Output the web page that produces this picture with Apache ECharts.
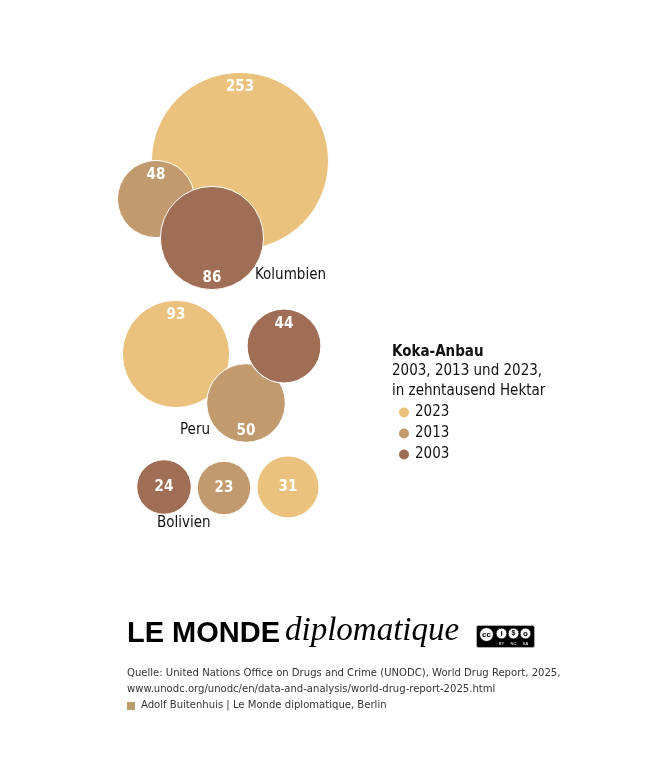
<!DOCTYPE html>
<html>
<head>
<meta charset="utf-8">
<script src="https://cdn.jsdelivr.net/npm/echarts@6/dist/echarts.min.js"></script>
<style>
  html, body { margin: 0; padding: 0; background: #fff; }
  #chart { width: 660px; height: 759px; }
</style>
</head>
<body>
<div id="chart"></div>
<script>
// Koka-Anbau, in zehntausend Hektar

const countries = ['Kolumbien', 'Peru', 'Bolivien'];
const years = ['2023', '2013', '2003'];
const area2023 = [253, 93, 31];
const area2013 = [48, 50, 23];
const area2003 = [86, 44, 24];

// bubble centres in chart units (layout only)
const centres2023 = [[240, 161], [176, 354], [288, 487]];
const centres2013 = [[156, 199], [246, 403], [224, 488]];
const centres2003 = [[212, 238], [284, 346], [164, 487]];
// where the number sits inside each bubble
const spots2023 = ['top', 'top', 'center'];
const spots2013 = ['top', 'bottom', 'center'];
const spots2003 = ['bottom', 'top', 'center'];

const COLORS = ['#ebc27d', '#c19b6e', '#a06d55'];
const FONT = '"DejaVu Sans Condensed", "Liberation Sans Narrow", "Noto Sans", sans-serif';
const K = 11.13; // diameter per sqrt(value), area true to scale

function bubbleSeries(name, values, centres, spots, color) {
  return {
    name,
    type: 'scatter',
    symbol: 'circle',
    symbolSize: d => K * Math.sqrt(d[2]),
    itemStyle: { color, borderColor: '#fff', borderWidth: 1, opacity: 1 },
    emphasis: { disabled: true },
    data: values.map((v, i) => {
      const r = K * Math.sqrt(v) / 2;
      const off = spots[i] === 'top' ? -(r - 15) : spots[i] === 'bottom' ? (r - 11) : 0;
      return {
        value: [centres[i][0], centres[i][1], v],
        label: { offset: [0, off] },
      };
    }),
    label: {
      show: true,
      position: 'inside',
      formatter: p => p.value[2],
      color: '#fff',
      fontFamily: FONT,
      fontWeight: 'bold',
      fontSize: 15,
    },
  };
}

function txt(x, y, text, style) {
  return {
    type: 'text', left: x, top: y, silent: true,
    style: Object.assign({ text, fill: '#111', font: '15px ' + FONT }, style),
  };
}

const chart = echarts.init(document.getElementById('chart'), null, { renderer: 'canvas' });

chart.setOption({
  backgroundColor: '#fff',
  animation: false,
  grid: { left: 0, top: 0, width: 660, height: 759 },
  xAxis: { type: 'value', min: 0, max: 660, show: false },
  yAxis: { type: 'value', min: 0, max: 759, inverse: true, show: false },
  legend: {
    orient: 'vertical',
    left: 392,
    top: 400,
    icon: 'circle',
    itemWidth: 12,
    itemHeight: 12,
    itemGap: 6,
    selectedMode: false,
    data: years,
    textStyle: { fontFamily: FONT, fontSize: 15, color: '#111' },
  },
  series: [
    bubbleSeries(years[0], area2023, centres2023, spots2023, COLORS[0]),
    bubbleSeries(years[1], area2013, centres2013, spots2013, COLORS[1]),
    bubbleSeries(years[2], area2003, centres2003, spots2003, COLORS[2]),
  ],
  graphic: [
    // country names
    txt(255, 268, countries[0]),
    txt(180, 423, countries[1]),
    txt(157, 516, countries[2]),
    // legend heading
    txt(392, 345, 'Koka-Anbau', { font: 'bold 15px ' + FONT }),
    txt(392, 364, '2003, 2013 und 2023,'),
    txt(392, 384, 'in zehntausend Hektar'),
    // masthead
    txt(127, 619, 'LE MONDE', { font: 'bold 29px "Liberation Sans", Arial, sans-serif', fill: '#000' }),
    txt(285, 615, 'diplomatique', { font: 'italic 33px "Liberation Serif", "DejaVu Serif", serif', fill: '#000' }),
    // CC badge
    {
      type: 'group', left: 476, top: 625, silent: true,
      children: [
        { type: 'rect', shape: { x: 0, y: 0, width: 58, height: 22, r: 2 }, style: { fill: '#000', stroke: '#aaa', lineWidth: 1 } },
        { type: 'circle', shape: { cx: 10, cy: 9, r: 7 }, style: { fill: '#fff', stroke: '#000', lineWidth: 1 } },
        { type: 'text', style: { x: 10, y: 9, text: 'cc', align: 'center', verticalAlign: 'middle', font: 'bold 8px sans-serif', fill: '#000' } },
        { type: 'circle', shape: { cx: 25, cy: 8, r: 5.5 }, style: { fill: '#fff', stroke: '#000', lineWidth: 1 } },
        { type: 'circle', shape: { cx: 37, cy: 8, r: 5.5 }, style: { fill: '#fff', stroke: '#000', lineWidth: 1 } },
        { type: 'circle', shape: { cx: 49, cy: 8, r: 5.5 }, style: { fill: '#fff', stroke: '#000', lineWidth: 1 } },
        { type: 'text', style: { x: 25, y: 8, text: 'i', align: 'center', verticalAlign: 'middle', font: 'bold 8px sans-serif', fill: '#000' } },
        { type: 'text', style: { x: 37, y: 8, text: '$', align: 'center', verticalAlign: 'middle', font: 'bold 7px sans-serif', fill: '#000' } },
        { type: 'text', style: { x: 49, y: 8, text: 'o', align: 'center', verticalAlign: 'middle', font: 'bold 8px sans-serif', fill: '#000' } },
        { type: 'text', style: { x: 25, y: 18, text: 'BY', align: 'center', verticalAlign: 'middle', font: '4px sans-serif', fill: '#fff' } },
        { type: 'text', style: { x: 37, y: 18, text: 'NC', align: 'center', verticalAlign: 'middle', font: '4px sans-serif', fill: '#fff' } },
        { type: 'text', style: { x: 49, y: 18, text: 'SA', align: 'center', verticalAlign: 'middle', font: '4px sans-serif', fill: '#fff' } },
      ],
    },
    // source
    txt(127, 668, 'Quelle: United Nations Office on Drugs and Crime (UNODC), World Drug Report, 2025,', { font: '11.2px ' + FONT, fill: '#333' }),
    txt(127, 684, 'www.unodc.org/unodc/en/data-and-analysis/world-drug-report-2025.html', { font: '11.2px ' + FONT, fill: '#333' }),
    {
      type: 'rect', left: 127, top: 702, silent: true,
      shape: { width: 8, height: 8 }, style: { fill: '#b99c6c' },
    },
    txt(141, 700, 'Adolf Buitenhuis | Le Monde diplomatique, Berlin', { font: '11.2px ' + FONT, fill: '#333' }),
  ],
});
</script>
</body>
</html>
